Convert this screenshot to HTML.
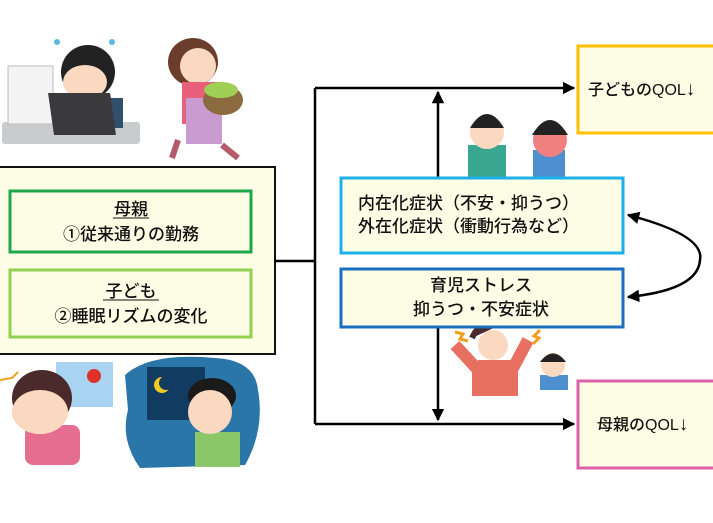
<!DOCTYPE html>
<html><head><meta charset="utf-8"><style>
html,body{margin:0;padding:0;background:#fff;width:713px;height:523px;overflow:hidden}
svg{display:block}
text{font-family:"Liberation Sans","Noto Sans CJK JP",sans-serif;fill:#111;font-weight:500}
</style></head><body>
<svg width="713" height="523" viewBox="0 0 713 523" xmlns="http://www.w3.org/2000/svg">
<defs>
<marker id="a" viewBox="0 0 10 10" refX="9" refY="5" markerWidth="5" markerHeight="5" orient="auto-start-reverse"><path d="M0,0L10,5L0,10z" fill="#000"/></marker>
</defs>
<rect x="2" y="122" width="138" height="22" rx="3" fill="#c9cbcc"/>
<rect x="8" y="66" width="45" height="58" fill="#f4f4f4" stroke="#b8bcc0"/>
<circle cx="88" cy="72" r="27" fill="#222"/>
<ellipse cx="85" cy="82" rx="22" ry="17" fill="#fbd8c0"/>
<rect x="78" y="98" width="45" height="30" fill="#2f4f6a"/>
<rect x="35" y="93" width="62" height="42" fill="#3a3a3c" transform="skewX(8)"/>
<circle cx="57" cy="42" r="3" fill="#5ab8e0"/><circle cx="112" cy="42" r="3" fill="#5ab8e0"/>
<ellipse cx="193" cy="62" rx="25" ry="24" fill="#6b3d2c"/>
<ellipse cx="198" cy="66" rx="18" ry="18" fill="#fbd8c0"/>
<rect x="182" y="82" width="38" height="42" fill="#e8607a"/>
<rect x="186" y="98" width="36" height="46" fill="#c99bd0"/>
<ellipse cx="223" cy="100" rx="20" ry="15" fill="#8c6a3f"/>
<ellipse cx="221" cy="90" rx="17" ry="8" fill="#9fcf54"/>
<path d="M178,140 L172,158 M222,145 L238,158" stroke="#b45a6a" stroke-width="6"/>
<rect x="-2" y="167" width="277" height="187" fill="#fdfde6" stroke="#111" stroke-width="2"/>
<rect x="10" y="191" width="241" height="61" fill="#fdfde6" stroke="#1fa84a" stroke-width="3"/>
<rect x="10" y="270" width="241" height="67" fill="#fdfde6" stroke="#92d050" stroke-width="3"/>
<text x="131" y="215" font-size="17" text-anchor="middle">母親</text>
<line x1="113" y1="218" x2="149" y2="218" stroke="#111" stroke-width="1"/>
<text x="131" y="240" font-size="17" text-anchor="middle">①従来通りの勤務</text>
<text x="131" y="297" font-size="17" text-anchor="middle">子ども</text>
<line x1="103" y1="300" x2="159" y2="300" stroke="#111" stroke-width="1"/>
<text x="131" y="322" font-size="17" text-anchor="middle">②睡眠リズムの変化</text>
<rect x="56" y="362" width="57" height="45" fill="#a8d4f2"/>
<circle cx="94" cy="376" r="7" fill="#e0302a"/>
<path d="M0,380 L12,378 L18,372" stroke="#f0a020" stroke-width="2" fill="none"/>
<rect x="25" y="425" width="55" height="40" rx="8" fill="#e56e90"/>
<ellipse cx="42" cy="398" rx="30" ry="28" fill="#4a2a2a"/>
<ellipse cx="40" cy="412" rx="28" ry="22" fill="#fbd8c0"/>
<path d="M125,375 Q150,352 215,358 Q255,360 258,390 Q265,430 245,465 L140,468 Q120,440 128,410 Z" fill="#2a76a8"/>
<rect x="147" y="367" width="58" height="53" fill="#123b62"/>
<circle cx="162" cy="385" r="8" fill="#f3c820"/><circle cx="166" cy="383" r="7" fill="#123b62"/>
<rect x="195" y="432" width="45" height="35" fill="#8cc86a"/>
<ellipse cx="212" cy="396" rx="24" ry="18" fill="#1a1a1a"/>
<ellipse cx="210" cy="412" rx="22" ry="22" fill="#fbd8c0"/>
<rect x="468" y="145" width="38" height="32" fill="#3aa890"/>
<circle cx="487" cy="132" r="17" fill="#fbd8c0"/>
<path d="M470,128 Q487,100 504,128" fill="#222"/>
<rect x="533" y="150" width="32" height="27" fill="#4e8fd0"/>
<circle cx="550" cy="140" r="17" fill="#f08080"/>
<path d="M532,135 Q550,105 568,135" fill="#222"/>
<path d="M455,345 L478,370 L478,390 L512,390 L512,370 L528,340" stroke="#e87060" stroke-width="12" fill="none"/>
<rect x="478" y="360" width="34" height="30" fill="#e87060"/>
<circle cx="493" cy="345" r="15" fill="#fbd8c0"/>
<path d="M472,338 Q480,320 500,325" fill="#4a2a2a" stroke="#4a2a2a" stroke-width="6"/>
<path d="M455,332 l8,2 -3,5 8,2" stroke="#f0a020" stroke-width="3" fill="none"/>
<path d="M540,330 l-6,6 5,2 -6,6" stroke="#f0a020" stroke-width="3" fill="none"/>
<rect x="540" y="375" width="28" height="15" fill="#4e8fd0"/>
<circle cx="553" cy="365" r="12" fill="#fbd8c0"/>
<path d="M540,362 Q553,345 566,362" fill="#222"/>
<polyline points="275,261 315,261" fill="none" stroke="#000" stroke-width="2.5"/>
<line x1="315" y1="88" x2="315" y2="424" stroke="#000" stroke-width="2.5"/>
<line x1="315" y1="88" x2="574" y2="88" stroke="#000" stroke-width="2.5" marker-end="url(#a)"/>
<line x1="315" y1="424" x2="574" y2="424" stroke="#000" stroke-width="2.5" marker-end="url(#a)"/>
<line x1="438" y1="177" x2="438" y2="92" stroke="#000" stroke-width="2.5" marker-end="url(#a)"/>
<line x1="438" y1="327" x2="438" y2="420" stroke="#000" stroke-width="2.5" marker-end="url(#a)"/>
<path d="M628,215 Q705,235 700,260 Q698,290 628,297" fill="none" stroke="#000" stroke-width="2.5" marker-start="url(#a)" marker-end="url(#a)"/>
<rect x="341" y="178" width="282" height="75" fill="#fdfde6" stroke="#1eb0e8" stroke-width="3"/>
<text x="358" y="209" font-size="17">内在化症状（不安・抑うつ）</text>
<text x="358" y="232" font-size="17">外在化症状（衝動行為など）</text>
<rect x="341" y="269" width="282" height="58" fill="#fdfde6" stroke="#1a6fc0" stroke-width="3"/>
<text x="481" y="291" font-size="17" text-anchor="middle">育児ストレス</text>
<text x="481" y="315" font-size="17" text-anchor="middle">抑うつ・不安症状</text>
<rect x="578" y="46" width="140" height="87" fill="#fdfde6" stroke="#ffc000" stroke-width="3"/>
<text x="588" y="95" font-size="16" font-weight="bold">子どものQOL<tspan font-size="19">↓</tspan></text>
<rect x="578" y="381" width="140" height="87" fill="#fdfde6" stroke="#e060a8" stroke-width="3"/>
<text x="597" y="430" font-size="16" font-weight="bold">母親のQOL<tspan font-size="19">↓</tspan></text>
</svg>
</body></html>
